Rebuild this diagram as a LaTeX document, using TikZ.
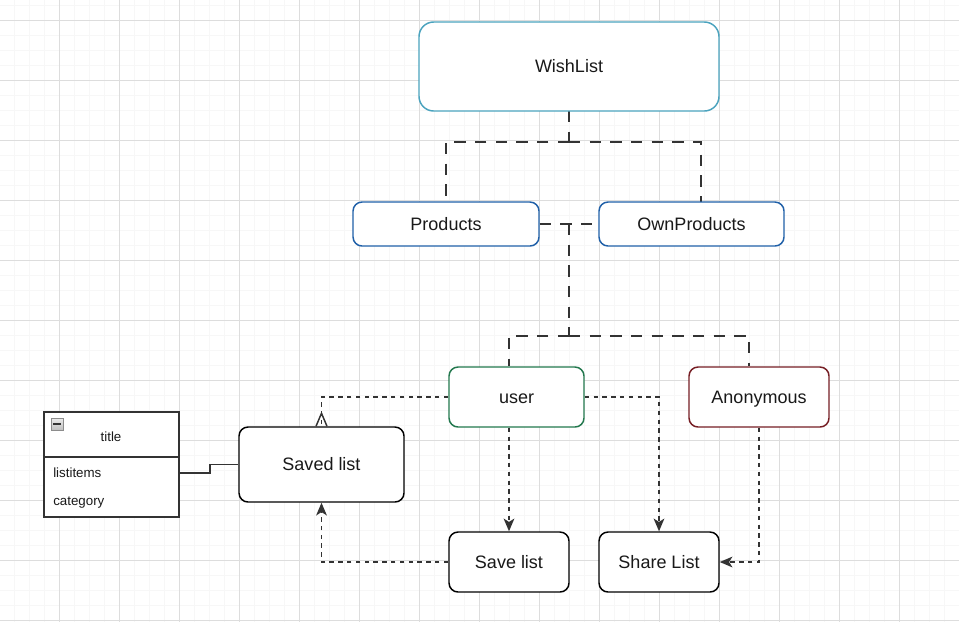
\documentclass[tikz,border=0pt]{standalone}
\usepackage{fontspec}
\setmainfont{Liberation Sans}
\usetikzlibrary{arrows.meta}
\definecolor{wishteal}{RGB}{75,163,190}
\definecolor{prodblue}{RGB}{32,96,168}
\definecolor{usergreen}{RGB}{35,120,78}
\definecolor{anonred}{RGB}{118,30,36}
\definecolor{linegray}{RGB}{51,51,51}
\definecolor{majorgrid}{RGB}{221,221,221}
\definecolor{minorgrid}{RGB}{247,247,247}

\begin{document}
\begin{tikzpicture}[x=0.75pt, y=-0.75pt,
    box/.style={draw, line width=1.1pt, fill=white, rounded corners=6.75pt, inner sep=0pt,
        text=black!90, font=\fontsize{13.5}{16}\selectfont, text height=9.7pt, text depth=0pt},
    size/.style 2 args={minimum width=#1*0.75pt, minimum height=#2*0.75pt},
    longdash/.style={draw=linegray, line width=1.5pt, dash pattern=on 8.5pt off 7pt},
    shortdash/.style={draw=linegray, line width=1.3pt, dash pattern=on 3.4pt off 3.2pt},
    tip/.style={-{Stealth[length=9.5pt, width=8pt, inset=2.5pt]}},
    tabletext/.style={inner sep=0pt, text=black!90, font=\fontsize{10}{12}\selectfont}]
    % background grid
    \useasboundingbox (0,0) rectangle (959,622);
    \fill[white] (0,0) rectangle (959,622);
    \foreach \x in {14,29,...,959} \draw[minorgrid, line width=0.75pt] (\x,0) -- (\x,622);
    \foreach \y in {5,20,...,622} \draw[minorgrid, line width=0.75pt] (0,\y) -- (959,\y);
    \foreach \x in {59,119,...,959} \draw[majorgrid, line width=0.75pt] (\x,0) -- (\x,622);
    \foreach \y in {20,80,...,622} \draw[majorgrid, line width=0.75pt] (0,\y) -- (959,\y);

    % connectors behind the boxes
    \coordinate (wishsplit) at (569,142);
    \coordinate (prodsplit) at (569,336);
    \draw[longdash] (569,111) -- (wishsplit);
    \draw[longdash] (wishsplit) -| (446,202);
    \draw[longdash] (wishsplit) -| (701,202);

    % boxes
    \node[box, draw=wishteal, size={300}{89}, rounded corners=11pt] (wish) at (569,66.5) {WishList};
    \node[box, draw=prodblue, size={186}{44}] (products) at (446,224) {Products};
    \node[box, draw=prodblue, size={185}{44}] (own) at (691.5,224) {OwnProducts};
    \node[box, draw=usergreen, size={135}{60}] (user) at (516.5,397) {user};
    \node[box, draw=anonred, size={140}{60}] (anon) at (759,397) {Anonymous};
    \node[box, size={165}{75}] (saved) at (321.5,464.5) {Saved list};
    \node[box, size={120}{60}] (save) at (509,562) {Save list};
    \node[box, size={120}{60}] (share) at (659,562) {Share List};

    % table
    \node[draw=linegray, line width=1.5pt, fill=white, size={135}{45}, inner sep=0pt] (tblhead) at (111.5,434.5) {};
    \node[draw=linegray, line width=1.5pt, fill=white, size={135}{60}, inner sep=0pt] (tblbody) at (111.5,487) {};
    \node[tabletext] (title) at (111,437) {title};
    \node[tabletext, anchor=west] (items) at (53,473) {listitems};
    \node[tabletext, anchor=west] (category) at (53,503) {category};
    \node[draw=gray!90, top color=gray!15, bottom color=gray!50, line width=0.6pt, minimum size=9pt, inner sep=0pt] (collapse) at (57,424) {};
    \draw[black!80, line width=1.4pt] ([xshift=2pt]collapse.west) -- ([xshift=-2pt]collapse.east);

    % product links
    \draw[longdash] (products.east) -- (own.west) coordinate[pos=0.5] (prodmid);
    \draw[longdash] (prodmid) -- (prodsplit);
    \draw[longdash] (prodsplit) -| ([xshift=-7.5*0.75pt]user.north);
    \draw[longdash] (prodsplit) -| ([xshift=-10*0.75pt]anon.north);

    % user actions
    \draw[shortdash] (user.west) -| (saved.north);
    \draw[line width=1.1pt, linegray] ([xshift=-5.5*0.75pt]saved.north) -- ++(5.5,-13) -- ([xshift=5.5*0.75pt]saved.north);
    \draw[shortdash, tip] (save.north |- user.south) -- (save.north);
    \draw[shortdash, tip] (user.east) -| (share.north);
    \draw[shortdash, tip] (anon.south) |- (share.east);
    \draw[shortdash, tip] (save.west) -| (saved.south);

    % table link
    \draw[linegray, line width=1.1pt] (tblbody.east |- items) -- ++(30,0) |- (saved.west);
\end{tikzpicture}
\end{document}
